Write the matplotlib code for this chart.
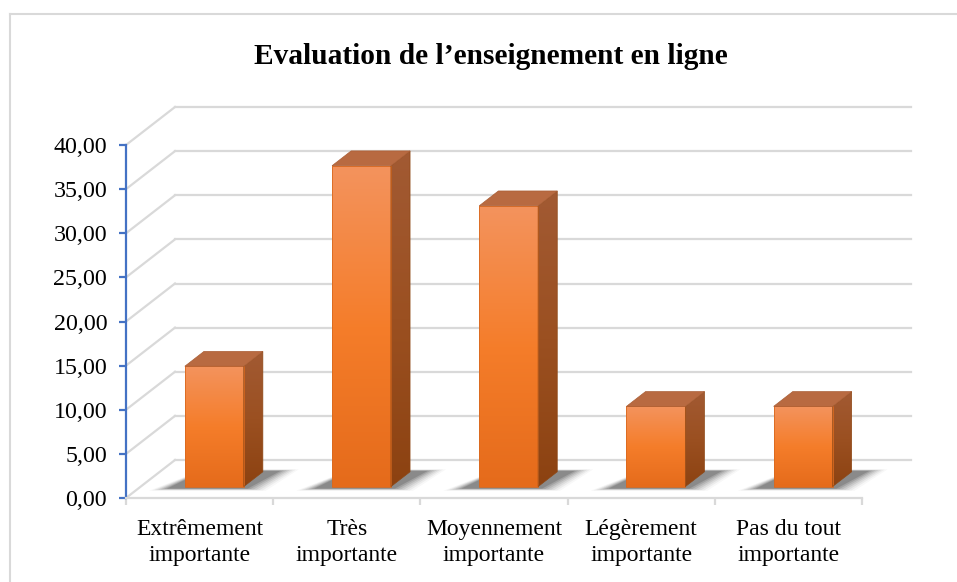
import numpy as np
import matplotlib.pyplot as plt
from matplotlib.patches import Polygon
from matplotlib.lines import Line2D
from matplotlib.colors import LinearSegmentedColormap
from matplotlib.ticker import FuncFormatter

plt.rcParams['font.family'] = ['Liberation Serif', 'DejaVu Serif']

# data
categories = ["Extrêmement\nimportante", "Très\nimportante", "Moyennement\nimportante",
              "Légèrement\nimportante", "Pas du tout\nimportante"]
values = [13.64, 36.36, 31.82, 9.09, 9.09]
y_ticks = [0, 5, 10, 15, 20, 25, 30, 35, 40]
title = "Evaluation de l\u2019enseignement en ligne"

W, H = 957, 582
fig = plt.figure(figsize=(W / 100, H / 100), dpi=100)
ax = fig.add_axes([126 / W, 84 / H, 736 / W, 353 / H])
ax.set_xlim(-0.5, 4.5)
ax.set_ylim(0, 40)

# pixel -> data unit helpers (oblique 3d look)
px_x = 5 / 736
px_y = 40 / 353
DX = 49 * px_x
DY = 38 * px_y
grid_col = "#D9D9D9"

# back wall and left wall gridlines
for v in y_ticks:
    ax.plot([-0.5 + DX, 4.5 + DX], [v + DY, v + DY], color=grid_col, lw=1.6,
            clip_on=False, zorder=1)
    ax.plot([-0.5, -0.5 + DX], [v, v + DY], color=grid_col, lw=1.6,
            clip_on=False, zorder=1)

front_cmap = LinearSegmentedColormap.from_list("front", ["#E56B1B", "#F57D2A", "#F3935D"])
side_cmap = LinearSegmentedColormap.from_list("side", ["#8C4211", "#9B5021", "#A25A33"])
grad = np.linspace(0, 1, 128).reshape(-1, 1)

bar_w = 0.40
f0, f1 = 0.30, 0.69
for i, v in enumerate(values):
    x0 = i - bar_w / 2 + f0 * DX
    x1 = i + bar_w / 2 + f0 * DX
    yb = f0 * DY
    yt = v + f0 * DY
    ddx = (f1 - f0) * DX
    ddy = (f1 - f0) * DY

    # soft shadow on the floor
    for k, a in zip(range(7), [0.03, 0.05, 0.07, 0.09, 0.11, 0.14, 0.18]):
        s = (6 - k) * 3
        shadow = [
            (x0 - (18 + s) * px_x, yb - (2 + s * 0.12) * px_y),
            (x1 + (4 + s) * px_x, yb - (2 + s * 0.12) * px_y),
            (x1 + ddx + (18 + s) * px_x, yb + ddy + (1 + s * 0.08) * px_y),
            (x0 + ddx, yb + ddy + (1 + s * 0.08) * px_y),
        ]
        ax.add_patch(Polygon(shadow, closed=True, facecolor="#202020", edgecolor="none",
                             alpha=a, zorder=2, clip_on=False))

    # front face
    front = Polygon([(x0, yb), (x1, yb), (x1, yt), (x0, yt)], closed=True,
                    facecolor="none", edgecolor="#D9691F", lw=0.6, zorder=4)
    ax.add_patch(front)
    im = ax.imshow(grad, extent=[x0, x1, yb, yt], origin="lower", cmap=front_cmap,
                   aspect="auto", interpolation="bilinear", zorder=3)
    im.set_clip_path(front)

    # right side face
    side = Polygon([(x1, yb), (x1 + ddx, yb + ddy), (x1 + ddx, yt + ddy), (x1, yt)],
                   closed=True, facecolor="none", edgecolor="#8E4714", lw=0.5, zorder=4)
    ax.add_patch(side)
    im2 = ax.imshow(grad, extent=[x1, x1 + ddx, yb, yt + ddy], origin="lower",
                    cmap=side_cmap, aspect="auto", interpolation="bilinear", zorder=3)
    im2.set_clip_path(side)

    # top face
    ax.add_patch(Polygon([(x0, yt), (x1, yt), (x1 + ddx, yt + ddy), (x0 + ddx, yt + ddy)],
                         closed=True, facecolor="#B86A41", edgecolor="#A95E36", lw=0.5,
                         zorder=4))

ax.set_xlim(-0.5, 4.5)
ax.set_ylim(0, 40)

# axes styling
for s in ["top", "right"]:
    ax.spines[s].set_visible(False)
ax.spines["left"].set_color("#4472C4")
ax.spines["left"].set_linewidth(1.6)
ax.spines["bottom"].set_color(grid_col)
ax.spines["bottom"].set_linewidth(1.6)

ax.set_yticks(y_ticks)
ax.yaxis.set_major_formatter(FuncFormatter(lambda v, p: f"{v:.2f}".replace(".", ",")))
ax.tick_params(axis="y", direction="out", length=5, width=1.6, color="#4472C4",
               labelsize=17.3, pad=8.5, labelcolor="black")

ax.set_xticks(range(len(categories)))
ax.set_xticklabels(categories, fontsize=17, linespacing=1.35)
ax.set_xticks(np.arange(-0.5, 5, 1), minor=True)
ax.tick_params(axis="x", which="major", length=0, pad=15)
ax.tick_params(axis="x", which="minor", direction="out", length=5, width=1.6, color=grid_col)

fig.text(491 / W, 1 - 57 / H, title, ha="center", va="center", fontsize=21.2,
         fontweight="bold")

# chart border
fig.add_artist(Line2D([10 / W, 10 / W], [0, 1 - 14 / H], color=grid_col, lw=1.5))
fig.add_artist(Line2D([10 / W, 1], [1 - 14 / H, 1 - 14 / H], color=grid_col, lw=1.5))

fig.savefig("out.png", dpi=100)
